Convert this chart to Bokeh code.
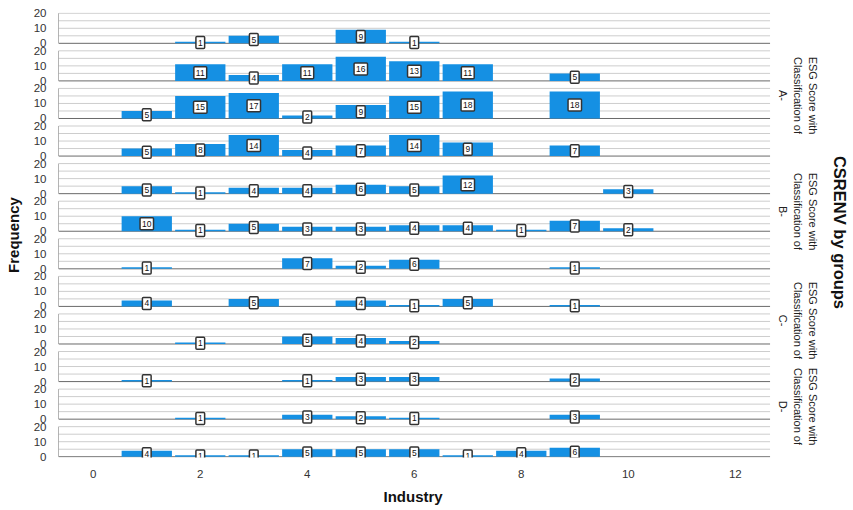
import math
from bokeh.plotting import figure
from bokeh.models import ColumnDataSource, FixedTicker, Label, Range1d, Title
from bokeh.core.properties import value
from bokeh.embed import file_html
from bokeh.resources import INLINE

# ---------------- data ----------------
industry = [1, 2, 3, 4, 5, 6, 7, 8, 9, 10]
row01 = [0, 1, 5, 0, 9, 1, 0, 0, 0, 0]
row02 = [0, 11, 4, 11, 16, 13, 11, 0, 5, 0]
row03 = [5, 15, 17, 2, 9, 15, 18, 0, 18, 0]
row04 = [5, 8, 14, 4, 7, 14, 9, 0, 7, 0]
row05 = [5, 1, 4, 4, 6, 5, 12, 0, 0, 3]
row06 = [10, 1, 5, 3, 3, 4, 4, 1, 7, 2]
row07 = [1, 0, 0, 7, 2, 6, 0, 0, 1, 0]
row08 = [4, 0, 5, 0, 4, 1, 5, 0, 1, 0]
row09 = [0, 1, 0, 5, 4, 2, 0, 0, 0, 0]
row10 = [1, 0, 0, 1, 3, 3, 0, 0, 2, 0]
row11 = [0, 1, 0, 3, 2, 1, 0, 0, 3, 0]
row12 = [4, 1, 1, 5, 5, 5, 1, 4, 6, 0]
rows = [row01, row02, row03, row04, row05, row06,
        row07, row08, row09, row10, row11, row12]

x_ticks = [0, 2, 4, 6, 8, 10, 12]
y_panel_ticks = [0, 10, 20]
group_names = ["A-", "B-", "C-", "D-"]

# ---------------- layout / style ----------------
W, H = 853, 510
LEFT, TOP, BOTTOM = 58, 12, 53
PX_X = 53.5            # pixels per industry unit
PANEL = 25
PANEL_TOP = 20
n = len(rows)
offsets = [(n - 1 - i) * PANEL for i in range(n)]
X0, XG = -0.65, 12.65                      # gridded area
X1 = X0 + (W - LEFT) / PX_X                # frame extends to the canvas edge
Y0, Y1 = -0.5, offsets[0] + PANEL_TOP + 0.5
frame_h = H - TOP - BOTTOM
PX_Y = frame_h / (Y1 - Y0)
BAR = "#1590e3"
FONT = "Liberation Sans"

bx, bb, bt, bm, bl = [], [], [], [], []
for off, counts in zip(offsets, rows):
    for xi, v in zip(industry, counts):
        if v > 0:
            bx.append(xi)
            bb.append(off)
            bt.append(off + v)
            bm.append(off + v / 2)
            bl.append(str(v))
src = ColumnDataSource(dict(x=bx, bottom=bb, top=bt, mid=bm, label=bl))

p = figure(width=W, height=H, x_range=Range1d(X0, X1), y_range=Range1d(Y0, Y1),
           output_backend="svg", toolbar_location=None,
           min_border_left=LEFT, min_border_right=0, min_border_top=TOP,
           min_border_bottom=BOTTOM)
p.outline_line_color = None
p.background_fill_color = "white"
p.xgrid.visible = False
p.ygrid.visible = False

# light grid lines (every 5 units) and darker panel baselines
grid_y = [g for g in range(0, int(Y1) + 1, 5) if g not in offsets]
p.segment(x0=[X0] * len(grid_y), y0=grid_y, x1=[XG] * len(grid_y), y1=grid_y,
          line_color="#cdcdcd", line_width=1)
p.segment(x0=[X0] * n, y0=offsets, x1=[XG] * n, y1=offsets, line_color="#6a6a6a", line_width=1)
p.segment(x0=[X0] * n, y0=offsets, x1=[X0] * n, y1=[o + PANEL_TOP for o in offsets],
          line_color="#6a6a6a", line_width=1)

# bars
p.vbar(x="x", bottom="bottom", top="top", width=0.94, source=src,
       fill_color=BAR, line_color=None)

# value boxes
p.text(x="x", y="mid", text="label", source=src,
       text_font=value(FONT), text_font_size="8.5px", text_color="#111111",
       text_align="center", text_baseline="middle",
       background_fill_color="white", border_line_color="#333333",
       border_line_width=1.5, padding=(2, 3), border_radius=1)

# axes
yt, yo = [], {}
for off in offsets:
    for t in y_panel_ticks:
        yt.append(off + t)
        yo[off + t] = str(t)
p.yaxis.ticker = FixedTicker(ticks=yt)
p.yaxis.major_label_overrides = yo
p.xaxis.ticker = FixedTicker(ticks=x_ticks)
for ax in (p.xaxis[0], p.yaxis[0]):
    ax.axis_line_color = None
    ax.major_tick_line_color = None
    ax.minor_tick_line_color = None
    ax.major_label_text_font = FONT
    ax.major_label_text_font_size = "11.5px"
    ax.major_label_text_color = "#333333"
    ax.axis_label_text_font = FONT
    ax.axis_label_text_font_size = "15px"
    ax.axis_label_text_font_style = "bold"
    ax.axis_label_text_color = "#111111"
p.yaxis.axis_label = "Frequency"
p.xaxis.major_label_standoff = 6
p.yaxis.major_label_standoff = 6
p.yaxis.axis_label_standoff = 9

# x-axis title, centred under the gridded area (not the whole frame)
p.add_layout(Title(text="Industry", align="left", offset=(413 - LEFT) - 30,
                   standoff=10, text_font=FONT, text_font_size="15px",
                   text_font_style="bold", text_color="#111111"), "below")

# right-side strip labels (positions in reference page pixels)
def dx(px):
    return X0 + (px - LEFT) / PX_X
def dy(py):
    return Y0 + (TOP + frame_h - py) / PX_Y

group_y = [95, 211, 320, 406]
for g, gy in zip(group_names, group_y):
    p.add_layout(Label(x=dx(797.5), y=dy(gy), text="ESG Score with\nClassification of\n" + g,
                       angle=-math.pi / 2, text_align="center", text_baseline="middle",
                       text_font=FONT, text_font_size="11px", text_color="#222222",
                       text_line_height=1.22))
p.add_layout(Label(x=dx(839), y=dy(232), text="CSRENV by groups", angle=-math.pi / 2,
                   text_align="center", text_baseline="middle", text_font=FONT,
                   text_font_size="16.5px", text_font_style="bold", text_color="#111111"))

open("out.html", "w").write(file_html(p, INLINE))
